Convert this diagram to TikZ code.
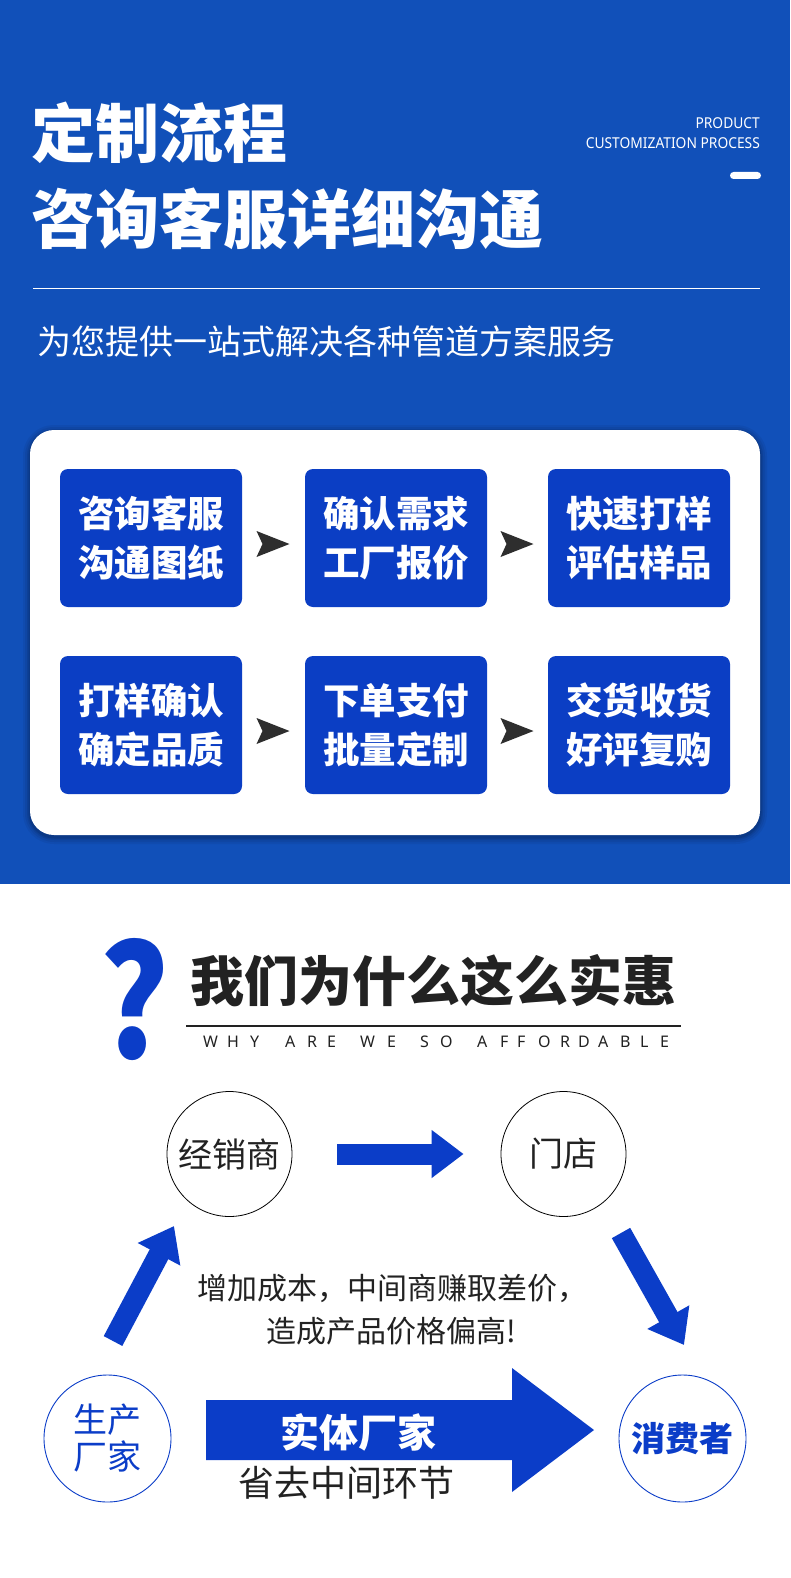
\documentclass[tikz,border=0pt]{standalone}
\usepackage{fontspec}
\newfontfamily\cjk{Noto Sans CJK SC}
\newfontfamily\latinfont{Noto Sans}
\usetikzlibrary{arrows.meta,calc}
\definecolor{topblue}{HTML}{1150B9}
\definecolor{boxblue}{HTML}{0B3EC4}
\definecolor{arrowblue}{HTML}{0B3DC8}
\definecolor{headgray}{HTML}{2E2E2E}
\definecolor{darktext}{HTML}{222222}
\tikzset{
  stepbox/.style={rectangle, rounded corners=8, fill=boxblue, text=white,
    minimum width=182, minimum height=138, inner sep=0, align=center,
    font=\cjk\bfseries\fontsize{36.5}{49}\selectfont},
  ringnode/.style={circle, draw=black, line width=0.8, minimum size=125, inner sep=0,
    text=darktext, font=\cjk\fontsize{34}{34}\selectfont},
  bluering/.style={circle, draw=arrowblue, line width=0.9, minimum size=127, inner sep=0,
    text=arrowblue, align=center, font=\cjk\fontsize{34}{37}\selectfont},
  bluearrow/.style={draw=arrowblue, line width=21, -{Triangle[length=32,width=46]}},
  whyletter/.style={anchor=base west, inner sep=0, text=darktext, font=\latinfont\fontsize{16}{16}\selectfont},
}
\begin{document}
\begin{tikzpicture}[x=1pt,y=-1pt]
\useasboundingbox (0,0) rectangle (790,1578);
\fill[white] (0,0) rectangle (790,1578);
\fill[topblue] (0,0) rectangle (790,884);

% header texts
\node[anchor=west, inner sep=0, text=white, font=\cjk\bfseries\fontsize{64}{64}\selectfont] (t1) at (31,133) {定制流程};
\node[anchor=west, inner sep=0, text=white, font=\cjk\bfseries\fontsize{64}{64}\selectfont] (t2) at (31,219) {咨询客服详细沟通};
\node[anchor=east, inner sep=0, text=white, xscale=0.92, font=\latinfont\fontsize{15}{15}\selectfont] (e1) at (760,123) {PRODUCT};
\node[anchor=east, inner sep=0, text=white, xscale=0.92, font=\latinfont\fontsize{15}{15}\selectfont] (e2) at (760,143) {CUSTOMIZATION PROCESS};
\fill[white, rounded corners=3.5] (730,172) rectangle (761,179);
\coordinate (la) at (33,289);
\coordinate (lb) at (760,289);
\draw[white, line width=1] (la) -- (lb);
\node[anchor=west, inner sep=0, text=white, font=\cjk\fontsize{34}{34}\selectfont] (sub) at (37,342) {为您提供一站式解决各种管道方案服务};

% white panel with soft shadow
\foreach \k/\o in {7/0.05, 5/0.06, 3/0.08, 1.5/0.1}{
  \fill[black, opacity=\o, rounded corners=24+\k] (30-\k,430-\k+2) rectangle (760+\k,835+\k+2);
}
\fill[white, rounded corners=24] (30,430) rectangle (760,835);

% steps
\node[stepbox] (b1) at (151,538) {咨询客服\\沟通图纸};
\node[stepbox] (b2) at (396,538) {确认需求\\工厂报价};
\node[stepbox] (b3) at (639,538) {快速打样\\评估样品};
\node[stepbox] (b4) at (151,725) {打样确认\\确定品质};
\node[stepbox] (b5) at (396,725) {下单支付\\批量定制};
\node[stepbox] (b6) at (639,725) {交货收货\\好评复购};

\foreach \a/\b/\m in {b1/b2/m1, b2/b3/m2, b4/b5/m3, b5/b6/m4}{
  \coordinate (\m) at ($(\a.east)!0.5!(\b.west)+(0,6)$);
  \fill[headgray] ($(\m)+(-17,-13)$) -- ($(\m)+(16,0)$) -- ($(\m)+(-17,13)$) -- ($(\m)+(-11,0)$) -- cycle;
}

% second section title
\node[anchor=base west, inner sep=0, text=arrowblue, xscale=0.85, font=\cjk\bfseries\fontsize{154}{154}\selectfont] (qm) at (99,1058) {?};
\node[inner sep=0, text=darktext, font=\cjk\bfseries\fontsize{54}{54}\selectfont] (t3) at (433.5,981) {我们为什么这么实惠};
\coordinate (lc) at (186,1026);
\coordinate (ld) at (681,1026);
\draw[darktext, line width=1.2] (lc) -- (ld);
\foreach \ch/\xx [count=\i] in {W/203,H/227,Y/250,A/285,R/307,E/327,W/360,E/387,S/420,O/440,A/477,F/500,F/517,O/538,R/560,D/578,A/598,B/620,L/640,E/660}{
  \node[whyletter] (why\i) at (\xx,1047) {\ch};
}

% circles
\node[ringnode] (jx) at (229.5,1154) {经销商};
\node[ringnode] (md) at (563.5,1154) {门店};
\node[bluering] (sc) at (107.5,1438.5) {生产\\厂家};
\node[bluering, font=\cjk\bfseries\fontsize{34}{34}\selectfont] (xf) at (682.5,1438.5) {消费者};

% arrows via middlemen
\draw[bluearrow] ([xshift=45]jx.east) -- ([xshift=-37]md.west);
\coordinate (u1) at (113,1341);
\coordinate (u2) at (174,1226);
\draw[bluearrow] (u1) -- (u2);
\coordinate (d1) at (621,1233);
\coordinate (d2) at (684,1345);
\draw[bluearrow] (d1) -- (d2);

\node[inner sep=0, text=darktext, font=\cjk\fontsize{30}{30}\selectfont] (note1) at (392,1288) {增加成本，中间商赚取差价，};
\node[inner sep=0, text=darktext, font=\cjk\fontsize{30}{30}\selectfont] (note2) at (391,1331) {造成产品价格偏高!};

% direct big arrow
\fill[arrowblue] (206,1400) -- (512,1400) -- (512,1368) -- (594,1430) -- (512,1492) -- (512,1460) -- (206,1460) -- cycle;
\node[inner sep=0, text=white, font=\cjk\bfseries\fontsize{39}{39}\selectfont] (st) at (358,1432) {实体厂家};
\node[inner sep=0, text=darktext, font=\cjk\fontsize{36}{36}\selectfont] (sq) at (346,1483) {省去中间环节};
\end{tikzpicture}
\end{document}
